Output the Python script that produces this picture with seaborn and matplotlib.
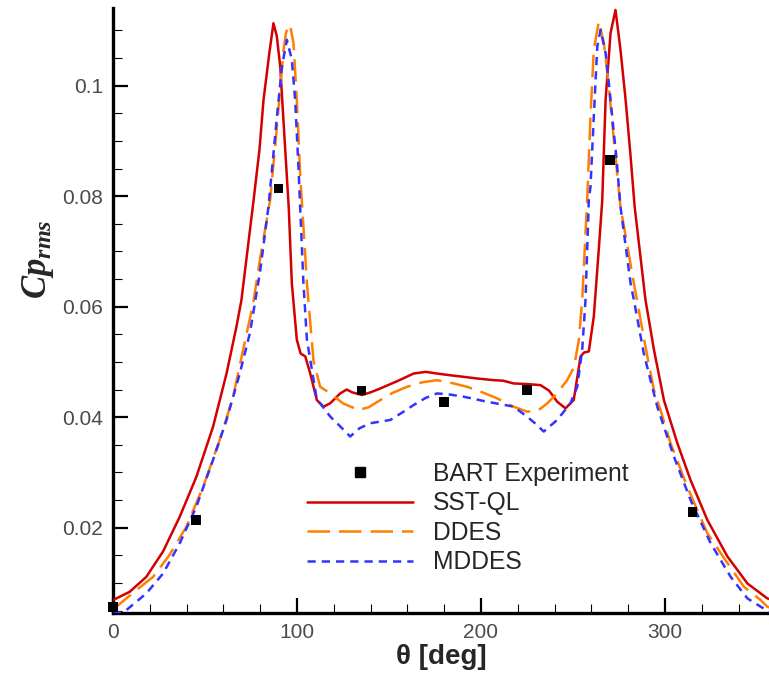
import numpy as np
import pandas as pd
import matplotlib
matplotlib.use("Agg")
import matplotlib.pyplot as plt
from matplotlib.ticker import MultipleLocator, FuncFormatter
from matplotlib.lines import Line2D
import seaborn as sns

# ---------------- data ----------------
exp_theta = [0, 45, 90, 135, 180, 225, 270, 315]
exp_cp = [0.0057, 0.0214, 0.0814, 0.0448, 0.0427, 0.0449, 0.0866, 0.0228]

sst_theta = [0, 9.1, 18.1, 27.2, 36.3, 45.3, 54.4, 61.7, 67.1, 69.8, 76.3, 79.6,
             81.8, 85, 87.2, 89, 90.9, 93.6, 95.5, 97.2, 99.9, 102, 104.5, 107.2,
             110.8, 114.4, 118, 123.5, 127, 130, 135.3, 140, 145.3, 155, 163.4,
             170, 176.1, 183, 190.6, 198, 206.9, 212, 217.8, 225, 232.3, 237,
             241.4, 245.9, 250.4, 254.1, 256, 258.6, 261.3, 264, 265.9, 267.7,
             270.4, 273.1, 275.8, 278.6, 281.3, 283.5, 289.4, 294, 299.4, 306.7,
             313.9, 323, 333.9, 344.8, 355.6, 360]
sst_cp = [0.0069, 0.0084, 0.0111, 0.0157, 0.0220, 0.0292, 0.0383, 0.0479, 0.0564,
          0.0612, 0.0790, 0.0884, 0.0974, 0.1060, 0.1113, 0.1090, 0.1034, 0.0884,
          0.0780, 0.0642, 0.0540, 0.0515, 0.0510, 0.0479, 0.0431, 0.0419, 0.0425,
          0.0443, 0.0450, 0.0445, 0.0440, 0.0445, 0.0452, 0.0466, 0.0479, 0.0482,
          0.0479, 0.0476, 0.0473, 0.0470, 0.0467, 0.0466, 0.0461, 0.0460, 0.0458,
          0.0448, 0.0428, 0.0416, 0.0431, 0.0510, 0.0517, 0.0519, 0.0582, 0.0703,
          0.0793, 0.0974, 0.1095, 0.1137, 0.1065, 0.0974, 0.0872, 0.0781, 0.0612,
          0.0522, 0.0431, 0.0353, 0.0286, 0.0214, 0.0148, 0.0099, 0.0072, 0.0068]

ddes_theta = [0, 1.8, 12.7, 21.8, 30.8, 39.9, 49, 58, 65.3, 70.7, 76.2, 80, 85.4,
              89.1, 92.7, 94, 95.4, 96.5, 98.1, 99.9, 101.7, 102.7, 105.4, 109,
              112.6, 118.1, 125, 133.5, 139, 145.3, 152, 159.8, 168, 176.1, 184,
              192.4, 200, 208.8, 217, 225, 231, 236, 241, 246.8, 250.5, 253.2, 255,
              256.8, 257.7, 259.5, 261.3, 264, 266.8, 269.5, 272.2, 275.8, 279.5,
              283.1, 290.4, 294, 298, 303, 312.1, 323, 333.9, 342.9, 352, 355.6, 360]
ddes_cp = [0.0054, 0.0057, 0.0087, 0.0111, 0.0151, 0.0202, 0.0274, 0.0359, 0.0437,
           0.0522, 0.0606, 0.0688, 0.0793, 0.0926, 0.1065, 0.1095, 0.1110, 0.1105,
           0.1077, 0.0974, 0.0841, 0.0787, 0.0642, 0.0501, 0.0455, 0.0443, 0.0425,
           0.0413, 0.0418, 0.0431, 0.0444, 0.0455, 0.0463, 0.0467, 0.0462, 0.0455,
           0.0446, 0.0434, 0.0420, 0.0410, 0.0412, 0.0425, 0.0442, 0.0467, 0.0490,
           0.0540, 0.0612, 0.0733, 0.0793, 0.0944, 0.1065, 0.1116, 0.1077, 0.0998,
           0.0902, 0.0781, 0.0711, 0.0642, 0.0510, 0.0449, 0.0408, 0.0353, 0.0274,
           0.0190, 0.0136, 0.0093, 0.0069, 0.0057, 0.0052]

mddes_theta = [0, 3, 7.3, 18.1, 27.2, 36.3, 45.3, 54.4, 61.7, 68.9, 74.4, 77.1, 80,
               84.5, 89.1, 91.8, 94.5, 97.2, 99, 100.8, 101.7, 103.5, 105.4, 107.2,
               110.8, 112.6, 118.1, 123, 128.9, 134, 139.8, 150.7, 157, 163.4, 170,
               176.1, 183, 190.6, 203.3, 217.8, 225, 229, 234.1, 241.4, 245, 248.6,
               252.3, 255, 256.8, 258.6, 259.5, 261.3, 263.2, 265, 267.7, 269.5,
               271.3, 273.7, 275.8, 281.3, 283.1, 288.5, 295.8, 304.8, 313.9, 324.8,
               335.7, 344.8, 352, 360]
mddes_cp = [0.0044, 0.0046, 0.0051, 0.0081, 0.0117, 0.0172, 0.0238, 0.0323, 0.0395,
            0.0479, 0.0552, 0.0606, 0.0665, 0.0781, 0.0944, 0.1034, 0.1083, 0.1047,
            0.0974, 0.0853, 0.0781, 0.0642, 0.0540, 0.0504, 0.0431, 0.0425, 0.0401,
            0.0385, 0.0365, 0.0380, 0.0389, 0.0395, 0.0408, 0.0422, 0.0435, 0.0443,
            0.0441, 0.0437, 0.0428, 0.0419, 0.0401, 0.0390, 0.0374, 0.0395, 0.0410,
            0.0425, 0.0455, 0.0522, 0.0612, 0.0793, 0.0817, 0.0944, 0.1071, 0.1101,
            0.1059, 0.1004, 0.0944, 0.0866, 0.0781, 0.0642, 0.0612, 0.0515, 0.0419,
            0.0329, 0.0250, 0.0172, 0.0111, 0.0072, 0.0057, 0.0042]

labels = ["BART Experiment", "SST-QL", "DDES", "MDDES"]
colors = ["#000000", "#D40000", "#FF8000", "#3333FF"]

# ---------------- figure ----------------
sns.set_theme(style="white")
plt.rcParams["font.family"] = ["Liberation Sans", "DejaVu Sans"]
plt.rcParams["mathtext.fontset"] = "custom"
plt.rcParams["mathtext.it"] = "Liberation Serif:italic:bold"
plt.rcParams["mathtext.rm"] = "Liberation Serif:bold"

fig = plt.figure(figsize=(7.69, 6.75), dpi=100)
ax = fig.add_axes([113 / 769, 62 / 675, 662.4 / 769, 604.7 / 675])

lw = 1.8
sns.lineplot(x=sst_theta, y=sst_cp, ax=ax, color=colors[1], lw=lw,
             estimator=None, sort=False, label=labels[1], legend=False, zorder=3)
sns.lineplot(x=ddes_theta, y=ddes_cp, ax=ax, color=colors[2], lw=lw,
             estimator=None, sort=False, label=labels[2], legend=False, zorder=4)
sns.lineplot(x=mddes_theta, y=mddes_cp, ax=ax, color=colors[3], lw=lw,
             estimator=None, sort=False, label=labels[3], legend=False, zorder=5)
lines = ax.get_lines()
lines[1].set_dashes((9.0, 3.6))
lines[2].set_dashes((3.3, 2.4))
sns.scatterplot(x=exp_theta, y=exp_cp, ax=ax, marker="s", s=48, color="black",
                edgecolor="none", zorder=6, legend=False, clip_on=False)

ax.set_xlim(0, 360)
ax.set_ylim(0.00456, 0.1140)

for side in ("top", "right"):
    ax.spines[side].set_visible(False)
for side in ("left", "bottom"):
    ax.spines[side].set_linewidth(2.4)
    ax.spines[side].set_color("black")

ax.xaxis.set_major_locator(MultipleLocator(100))
ax.xaxis.set_minor_locator(MultipleLocator(20))
ax.yaxis.set_major_locator(MultipleLocator(0.02))
ax.yaxis.set_minor_locator(MultipleLocator(0.005))
ax.yaxis.set_major_formatter(FuncFormatter(lambda v, p: f"{v:g}"))
ax.tick_params(which="major", direction="in", length=10.5, width=1.6,
               labelsize=15, labelcolor="#4a4a4a", color="black", pad=7)
ax.tick_params(which="minor", direction="in", length=6.2, width=0.8, color="black")
ax.tick_params(axis="x", which="both", bottom=True, top=False)
ax.tick_params(axis="y", which="both", left=True, right=False)

ax.set_xlabel("θ [deg]", fontsize=20, fontweight="bold", va="center")
ax.xaxis.set_label_coords(0.495, -0.073)
ax.set_ylabel(r"$Cp_{rms}$", fontsize=25, va="center")
ax.yaxis.set_label_coords(-0.113, 0.585)

handles = [
    Line2D([], [], color="black", marker="s", ls="none", markersize=7),
    Line2D([], [], color=colors[1], lw=lw),
    Line2D([], [], color=colors[2], lw=lw, dashes=(9.0, 3.6)),
    Line2D([], [], color=colors[3], lw=lw, dashes=(3.3, 2.4)),
]
leg = ax.legend(handles, labels, loc="upper left",
                bbox_to_anchor=(307 / 769, 1 - 462 / 675),
                bbox_transform=fig.transFigure, frameon=False, fontsize=17.7,
                handlelength=4.3, handletextpad=0.82, labelspacing=0.22,
                borderpad=0, borderaxespad=0)

fig.savefig("out.png", dpi=100)
